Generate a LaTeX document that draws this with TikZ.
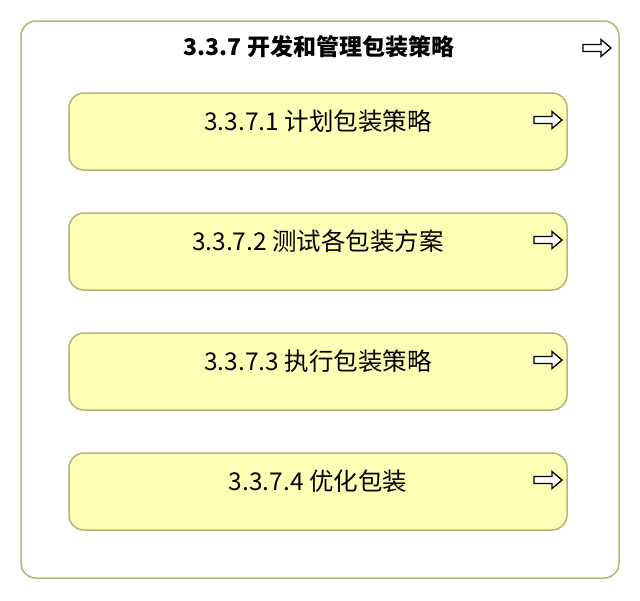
\documentclass[tikz,border=0pt]{standalone}
\usepackage{fontspec}
\setmainfont{Noto Sans CJK SC}
\usetikzlibrary{positioning}
\definecolor{boxfill}{RGB}{255,255,181}
\definecolor{boxline}{RGB}{181,181,122}
\begin{document}
\begin{tikzpicture}[
    x=1pt, y=-1pt,
    node distance=43pt,
    group/.style={draw=boxline, line width=1.5pt, fill=white, rounded corners=15pt, minimum width=598pt, minimum height=557pt, outer sep=0pt},
    task/.style={draw=boxline, line width=1.5pt, fill=boxfill, rounded corners=15pt, minimum width=498pt, inner ysep=0pt, text height=37.5pt, text depth=39.5pt, outer sep=0pt, font=\fontsize{24.5}{28}\selectfont},
    arrowmark/.pic={
        \draw[black, line width=1.3pt, fill=white, line join=miter]
            (0,0) -- (-10,-8.5) -- (-10,-3.5) -- (-28,-3.5) -- (-28,3.5) -- (-10,3.5) -- (-10,8.5) -- cycle;
    },
]
    \useasboundingbox (0,0) rectangle (640,600);
    % Nodes
    \node (G) [group] at (320,299.5) {};
    \node (T) at (319,47) {\fontsize{23}{27}\selectfont\bfseries 3.3.7 开发和管理包装策略};
    \pic (GA) at ([xshift=-8pt, yshift=-27pt]G.north east) {arrowmark};

    \node (A) [task, anchor=north] at (318,93) {3.3.7.1 计划包装策略};
    \node (B) [task, below=of A] {3.3.7.2 测试各包装方案};
    \node (C) [task, below=of B] {3.3.7.3 执行包装策略};
    \node (D) [task, below=of C] {3.3.7.4 优化包装};

    % Arrow marks
    \pic (AA) at ([xshift=-5pt, yshift=-27pt]A.north east) {arrowmark};
    \pic (BA) at ([xshift=-5pt, yshift=-27pt]B.north east) {arrowmark};
    \pic (CA) at ([xshift=-5pt, yshift=-27pt]C.north east) {arrowmark};
    \pic (DA) at ([xshift=-5pt, yshift=-27pt]D.north east) {arrowmark};
\end{tikzpicture}
\end{document}
